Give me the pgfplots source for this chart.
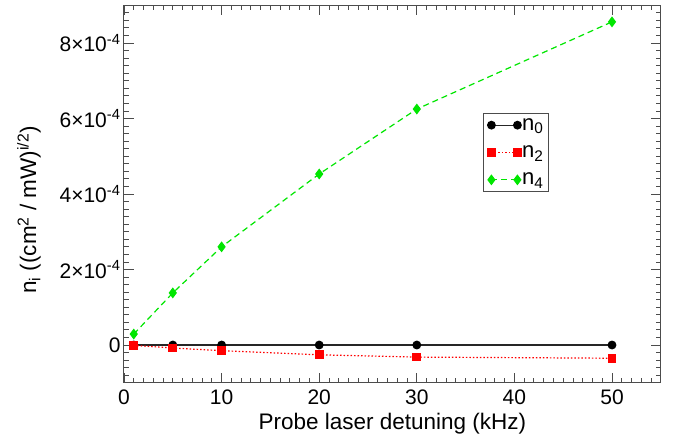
\documentclass[border=0pt]{standalone}
\usepackage{fontspec}
\setmainfont{Liberation Sans}
\usepackage{pgfplots}
\pgfplotsset{compat=1.18}
\definecolor{mygreen}{RGB}{0,230,0}
\begin{document}
\begin{tikzpicture}
\begin{axis}[
  scale only axis, width=536.8bp, height=377.5bp,
  xmin=0, xmax=55, ymin=-1e-4, ymax=9e-4,
  xtick={0,10,20,30,40,50},
  minor xtick={0,1,...,55},
  ytick={-1e-4,0,2e-4,4e-4,6e-4,8e-4,9e-4},
  yticklabels={,0,2×10\textsuperscript{-4},4×10\textsuperscript{-4},6×10\textsuperscript{-4},8×10\textsuperscript{-4},},
  minor ytick={-0.8e-4,-0.6e-4,-0.4e-4,-0.2e-4,0.2e-4,0.4e-4,0.6e-4,0.8e-4,1e-4,1.2e-4,1.4e-4,1.6e-4,1.8e-4,2.2e-4,2.4e-4,2.6e-4,2.8e-4,3e-4,3.2e-4,3.4e-4,3.6e-4,3.8e-4,4.2e-4,4.4e-4,4.6e-4,4.8e-4,5e-4,5.2e-4,5.4e-4,5.6e-4,5.8e-4,6.2e-4,6.4e-4,6.6e-4,6.8e-4,7e-4,7.2e-4,7.4e-4,7.6e-4,7.8e-4,8.2e-4,8.4e-4,8.6e-4,8.8e-4},
  scaled y ticks=false,
  tick align=inside, major tick length=10bp, minor tick length=5bp,
  every tick/.style={black!70, line width=0.9bp},
  axis line style={black!70, line width=1bp},
  /pgf/number format/assume math mode=true,
  ticklabel style={font=\fontsize{21bp}{25bp}\selectfont},
  xticklabel style={yshift=-4bp},
  label style={font=\fontsize{22.5bp}{26bp}\selectfont},
  xlabel={Probe laser detuning (kHz)},
  xlabel style={yshift=-1bp},
  ylabel={n\textsubscript{i} ((cm\textsuperscript{2} / mW)\textsuperscript{i/2})},
  ylabel style={yshift=12bp, xshift=-16bp},
  legend style={at={(0.669,0.7146)}, anchor=north west, draw=black!70, line width=1bp,
    font=\fontsize{22bp}{26bp}\selectfont, row sep=12bp, inner sep=4bp,
    nodes={inner sep=1bp}},
  legend cell align=left,
  legend image code/.code={\draw[mark repeat=1,mark phase=1] plot coordinates {(0bp,0bp) (26bp,0bp)};},
]
\addplot[black!85, line width=1.2bp, mark=*, mark size=3.8bp, mark options={solid, fill=black, draw=black}]
  coordinates {(1,0) (5,0) (10,0) (20,0) (30,0) (50,0)};
\addlegendentry{n\textsubscript{0}}
\addplot[red, line width=1.2bp, dash pattern=on 1.5bp off 2bp, mark=square*, mark size=3.8bp, mark options={solid, fill=red, draw=red}]
  coordinates {(1,-0.01e-4) (5,-0.08e-4) (10,-0.15e-4) (20,-0.26e-4) (30,-0.32e-4) (50,-0.35e-4)};
\addlegendentry{n\textsubscript{2}}
\addplot[mygreen, line width=1.2bp, dash pattern=on 6bp off 4bp, mark=diamond*, mark size=4.5bp, mark options={solid, fill=mygreen, draw=mygreen}]
  coordinates {(1,0.29e-4) (5,1.38e-4) (10,2.6e-4) (20,4.53e-4) (30,6.25e-4) (50,8.56e-4)};
\addlegendentry{n\textsubscript{4}}
\end{axis}
\pgfresetboundingbox
\path ([shift={(-124bp,-52.25bp)}]current axis.south west) rectangle ([shift={(22.2bp,5.25bp)}]current axis.north east);
\end{tikzpicture}
\end{document}
